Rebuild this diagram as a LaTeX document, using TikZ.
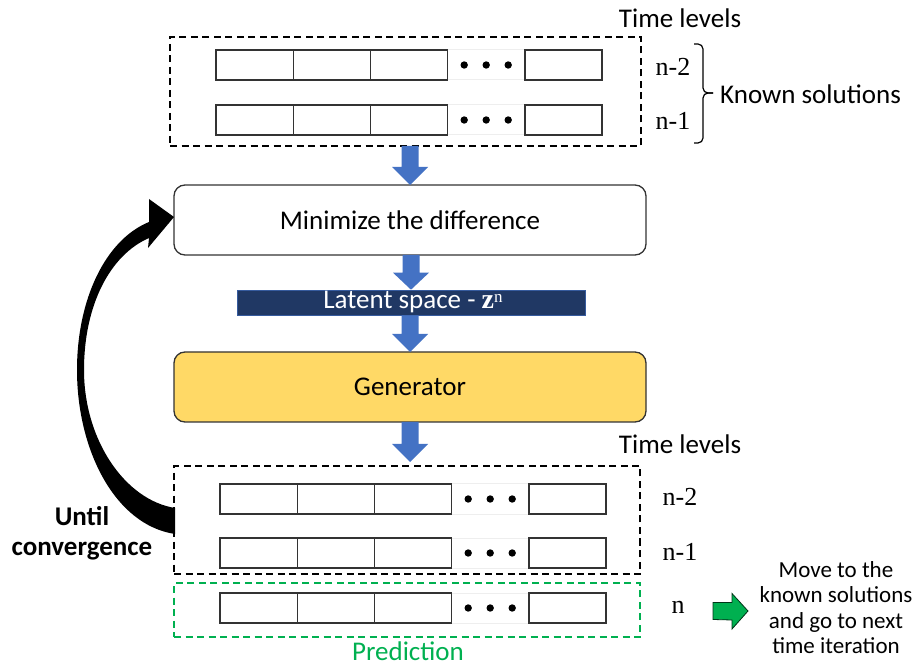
\documentclass[tikz,border=0pt]{standalone}
\usepackage{fontspec}
\setmainfont{Carlito}
\newfontfamily\seriffont{Liberation Serif}
\usetikzlibrary{calc}
\definecolor{arrowblue}{HTML}{4472C4}
\definecolor{navy}{HTML}{203864}
\definecolor{genyellow}{HTML}{FFD966}
\definecolor{predgreen}{HTML}{00B050}
\definecolor{cellgray}{HTML}{333333}
\definecolor{dotgray}{HTML}{EEEEEE}
\newcommand\fsz[1]{\fontsize{#1}{#1}\selectfont}
\newcommand\cellrow[3]{%
  \node[dotcell] (#13) at ({#2+77.2*3+38.6},{#3+15}) {};
  \foreach \i in {0,1,2,4}{\node[cellbox] (#1\i) at ({#2+77.2*\i+38.6},{#3+15}) {};}
  \foreach \d in {-22,0,22}{\fill ($(#13.center)+(\d,0)$) circle (3.7);}
}
\newcommand\blockarrow[3]{%
  \fill[arrowblue] let \p1=(#1), \p2=(#2) in
    (\x2-8.5pt,\y1) -- (\x2+8.5pt,\y1) -- (\x2+8.5pt,\y2+#3) -- (\x2+18pt,\y2+#3)
    -- (\x2,\y2) -- (\x2-18pt,\y2+#3) -- (\x2-8.5pt,\y2+#3) -- cycle;
}
\begin{document}
\begin{tikzpicture}[x=1pt,y=-1pt,
  cellbox/.style={draw=cellgray, line width=1.4pt, minimum width=77.2pt, minimum height=30pt, inner sep=0pt, outer sep=0pt},
  dotcell/.style={draw=dotgray, line width=1pt, minimum width=77.2pt, minimum height=30pt, inner sep=0pt, outer sep=0pt},
  dashbox/.style={draw=black, line width=1.8pt, dash pattern=on 7pt off 4.5pt, inner sep=0pt, outer sep=0pt},
  greenbox/.style={draw=predgreen, line width=1.8pt, dash pattern=on 7pt off 4.5pt, inner sep=0pt, outer sep=0pt},
  stagebox/.style={draw=cellgray, line width=1.3pt, rounded corners=11pt, minimum width=472pt, minimum height=70pt, inner sep=0pt, outer sep=0pt},
  txt/.style={font=\fsz{27}, inner sep=0pt},
  lvl/.style={font=\seriffont\fsz{26}, inner sep=0pt}
]
\useasboundingbox (0,0) rectangle (922,668);

% ---- top: known solutions
\node[dashbox, minimum width=471pt, minimum height=109pt] (known) at (405.5,91.5) {};
\cellrow{ra}{216}{50}
\cellrow{rb}{216}{105}
\node[txt] (tl1) at (680,18) {Time levels};
\node[lvl] (la) at (673,67) {n-2};
\node[lvl] (lb) at (673,121) {n-1};
\coordinate (brtop) at (694,44);
\coordinate (brbot) at (694,143);
\coordinate (brtip) at (713,93);
\draw[line width=1.2pt, rounded corners=5pt] (brtop) -| (703,93) -- (brtip);
\draw[line width=1.2pt, rounded corners=5pt] (brtip) -- (703,93) |- (brbot);
\node[txt, anchor=west] (knowntxt) at (720,94) {Known solutions};

% ---- stages
\node[stagebox, fill=white] (minbox) at (410,220) {};
\node[txt] (mintxt) at (410,220) {Minimize the difference};
\blockarrow{known.south}{minbox.north}{18pt}

\node[fill=navy, draw=arrowblue!60!navy, line width=0.6pt, minimum width=348pt, minimum height=25pt, inner sep=0pt] (latent) at (411,302.5) {};
\blockarrow{minbox.south}{latent.north}{17pt}
\node[text=white, font=\fsz{27}, inner sep=0pt] (latenttxt) at (413,302) {Latent space - {\seriffont\bfseries\fsz{28}z}\raisebox{6pt}{\seriffont\fsz{17}n}};

\node[stagebox, fill=genyellow] (gen) at (410,387) {};
\node[txt] (gentxt) at (410,387) {Generator};
\blockarrow{latent.south}{gen.north}{18pt}

\coordinate (a4end) at (410,462);
\blockarrow{gen.south}{a4end}{18pt}

% ---- bottom: predicted levels
\node[txt] (tl2) at (680,444) {Time levels};
\node[dashbox, minimum width=466pt, minimum height=108pt] (bottom) at (407,520) {};
\node[greenbox, minimum width=466pt, minimum height=54pt] (pred) at (407,610) {};
\cellrow{rc}{220}{484}
\cellrow{rd}{220}{538}
\cellrow{re}{220}{593}
\node[lvl] (lc) at (680,497) {n-2};
\node[lvl] (ld) at (680,552) {n-1};
\node[lvl] (le) at (678,607) {n};
\node[txt, text=predgreen] (predtxt) at (408,651) {Prediction};

% ---- green arrow and note
\coordinate (ga) at (713,611);
\filldraw[fill=predgreen, draw=black!70!predgreen, line width=0.8pt]
  (ga) ++(0,-8.5) -- ++(19,0) -- ++(0,-9) -- (748,611) -- (732,629) -- ++(0,-9) -- (713,619.5) -- cycle;
\node[align=center, font=\fsz{23}, inner sep=0pt] (movetxt) at (836,607.5)
  {Move to the\\[2.3pt] known solutions\\[2.3pt] and go to next\\[2.3pt] time iteration};

% ---- feedback arrow
\fill (149,222) .. controls (105,240) and (77,300) .. (77,370)
  .. controls (77,450) and (115,525) .. (175,534) -- (175,508)
  .. controls (125,500) and (84,440) .. (84,370)
  .. controls (84,305) and (110,255) .. (149,238)
  -- (148,248) -- (174,217) -- (149,199) -- cycle;
\node[align=center, font=\bfseries\fsz{27}, inner sep=0pt] (until) at (82,533) {Until\\[3pt] convergence};
\end{tikzpicture}
\end{document}
